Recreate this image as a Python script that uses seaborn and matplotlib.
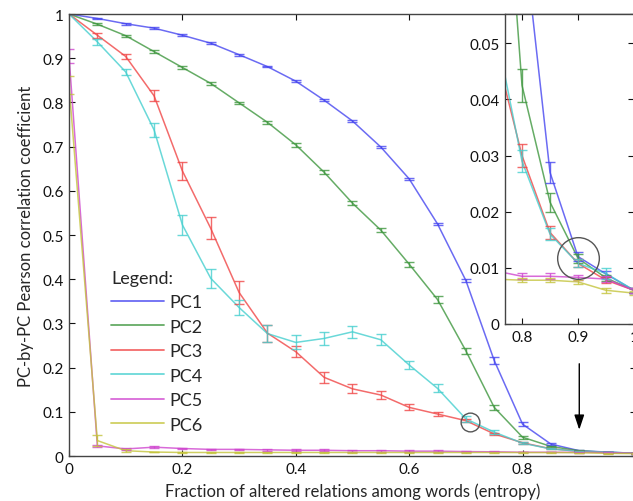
import numpy as np
import pandas as pd
import matplotlib
matplotlib.use('Agg')
import matplotlib.pyplot as plt
from matplotlib.ticker import FuncFormatter
import seaborn as sns

# fraction of altered relations (entropy)
frac = [0.0, 0.05, 0.1, 0.15, 0.2, 0.25, 0.3, 0.35, 0.4, 0.45, 0.5,
        0.55, 0.6, 0.65, 0.7, 0.75, 0.8, 0.85, 0.9, 0.95, 1.0]

pc1 = [1.0, 0.990, 0.978, 0.968, 0.952, 0.934, 0.908, 0.881, 0.848, 0.805, 0.758,
       0.699, 0.627, 0.525, 0.397, 0.216, 0.072, 0.027, 0.012, 0.0089, 0.006]
pc1_err = [0, 0.001, 0.002, 0.002, 0.002, 0.002, 0.002, 0.002, 0.002, 0.002, 0.002,
           0.002, 0.002, 0.003, 0.004, 0.008, 0.004, 0.0018, 0.0008, 0.0005, 0.0004]

pc2 = [1.0, 0.977, 0.951, 0.915, 0.879, 0.843, 0.799, 0.755, 0.704, 0.642, 0.572,
       0.511, 0.434, 0.354, 0.238, 0.110, 0.0425, 0.0217, 0.0117, 0.0082, 0.006]
pc2_err = [0, 0.002, 0.002, 0.003, 0.003, 0.003, 0.003, 0.003, 0.004, 0.004, 0.004,
           0.005, 0.006, 0.007, 0.007, 0.006, 0.003, 0.0017, 0.0008, 0.0005, 0.0004]

pc3 = [1.0, 0.952, 0.904, 0.815, 0.645, 0.515, 0.370, 0.278, 0.236, 0.178, 0.152,
       0.138, 0.110, 0.095, 0.080, 0.050, 0.030, 0.0163, 0.0108, 0.0078, 0.006]
pc3_err = [0, 0.006, 0.006, 0.012, 0.021, 0.025, 0.026, 0.019, 0.013, 0.012, 0.010,
           0.008, 0.007, 0.005, 0.004, 0.003, 0.002, 0.0012, 0.0007, 0.0005, 0.0004]

pc4 = [1.0, 0.937, 0.869, 0.738, 0.523, 0.402, 0.336, 0.277, 0.257, 0.266, 0.281,
       0.263, 0.206, 0.153, 0.084, 0.054, 0.029, 0.016, 0.0108, 0.009, 0.006]
pc4_err = [0, 0.006, 0.006, 0.016, 0.022, 0.021, 0.018, 0.020, 0.016, 0.015, 0.014,
           0.012, 0.010, 0.009, 0.006, 0.004, 0.002, 0.0011, 0.0007, 0.0009, 0.0004]

pc5 = [0.905, 0.023, 0.016, 0.020, 0.017, 0.015, 0.015, 0.014, 0.013, 0.013, 0.012,
       0.012, 0.011, 0.011, 0.010, 0.0095, 0.0085, 0.0085, 0.0083, 0.008, 0.006]
pc5_err = [0.015, 0.003, 0.003, 0.002, 0.002, 0.002, 0.002, 0.002, 0.002, 0.002, 0.002,
           0.002, 0.002, 0.002, 0.001, 0.001, 0.0005, 0.0005, 0.0005, 0.0005, 0.0004]

pc6 = [0.84, 0.035, 0.012, 0.009, 0.008, 0.008, 0.008, 0.008, 0.008, 0.008, 0.008,
       0.008, 0.008, 0.008, 0.008, 0.008, 0.0078, 0.0078, 0.0075, 0.006, 0.0055]
pc6_err = [0.02, 0.012, 0.003, 0.001, 0.001, 0.001, 0.001, 0.001, 0.001, 0.001, 0.001,
           0.001, 0.001, 0.001, 0.001, 0.001, 0.0004, 0.0004, 0.0004, 0.0004, 0.0004]

names = ['PC1', 'PC2', 'PC3', 'PC4', 'PC5', 'PC6']
colors = ['#4646f0', '#3f973f', '#f04646', '#45cfcf', '#cf45cf', '#c4c43c']

# callouts drawn on the chart: circles and the arrow
main_circle = (0.707, 0.076)
inset_circle = (0.9, 0.0118)
arrow_x = 0.9
arrow_from, arrow_to = 0.215, 0.053

series = [pc1, pc2, pc3, pc4, pc5, pc6]
errors = [pc1_err, pc2_err, pc3_err, pc4_err, pc5_err, pc6_err]

df = pd.concat([pd.DataFrame({'frac': frac, 'r': v, 'err': e, 'pc': n})
                for n, v, e in zip(names, series, errors)], ignore_index=True)

sns.set_style('ticks')
plt.rcParams['font.family'] = ['Lato', 'DejaVu Sans']
plt.rcParams['axes.edgecolor'] = '#444444'
plt.rcParams['axes.linewidth'] = 1.0

fig = plt.figure(figsize=(6.33, 5.02), dpi=100)
ax = fig.add_axes([0.109, 0.0896, 0.8957, 0.8805])
axin = fig.add_axes([0.7981, 0.3526, 0.2035, 0.6174])

palette = dict(zip(names, colors))


def draw(a, legend):
    sns.lineplot(data=df, x='frac', y='r', hue='pc', palette=palette, ax=a,
                 linewidth=1.1, alpha=0.8, legend=legend, sort=True)
    for n, c in zip(names, colors):
        d = df[df['pc'] == n]
        a.errorbar(d['frac'], d['r'], yerr=d['err'], fmt='none', ecolor=c,
                   elinewidth=1.0, capsize=3.5, capthick=1.0, alpha=0.8)


def style(a, fs):
    a.tick_params(direction='in', length=4, width=0.8, top=True, right=True,
                  labelsize=fs, colors='#111111', pad=4)
    for s in a.spines.values():
        s.set_visible(True)
        s.set_color('#444444')
    fmt = FuncFormatter(lambda v, p: '%g' % round(v, 4))
    a.xaxis.set_major_formatter(fmt)
    a.yaxis.set_major_formatter(fmt)


draw(ax, True)
ax.set_xlim(0, 1)
ax.set_ylim(0, 1)
ax.set_xticks(np.arange(0, 1.01, 0.2))
ax.set_yticks(np.arange(0, 1.01, 0.1))
style(ax, 11)
ax.set_xlabel('Fraction of altered relations among words (entropy)', fontsize=12, labelpad=5)
ax.set_ylabel('PC-by-PC Pearson correlation coefficient', fontsize=12, labelpad=6)

handles, labels = ax.get_legend_handles_labels()
for h in handles:
    h.set_linewidth(1.3)
ax.legend(handles, labels, title='Legend:', loc='upper left', bbox_to_anchor=(0.062, 0.438),
          frameon=False, alignment='left', fontsize=13, title_fontsize=13,
          handlelength=2.9, handletextpad=0.3, labelspacing=0.47, borderaxespad=0)

ax.plot(*main_circle, 'o', mfc='none', mec='#555555', ms=13.5, mew=1.0)
ax.annotate('', xy=(arrow_x, arrow_to), xytext=(arrow_x, arrow_from),
            arrowprops=dict(arrowstyle='-|>,head_length=0.9,head_width=0.3', color='black', lw=1.0))

draw(axin, False)
axin.set_facecolor('white')
axin.set_xlim(0.77, 1.0)
axin.set_ylim(0, 0.0552)
axin.set_xticks([0.8, 0.9, 1.0])
axin.set_yticks(np.arange(0, 0.051, 0.01))
style(axin, 11)
axin.set_xlabel('')
axin.set_ylabel('')
axin.plot(*inset_circle, 'o', mfc='none', mec='#555555', ms=30, mew=1.0)

fig.savefig('out.png', dpi=100)
